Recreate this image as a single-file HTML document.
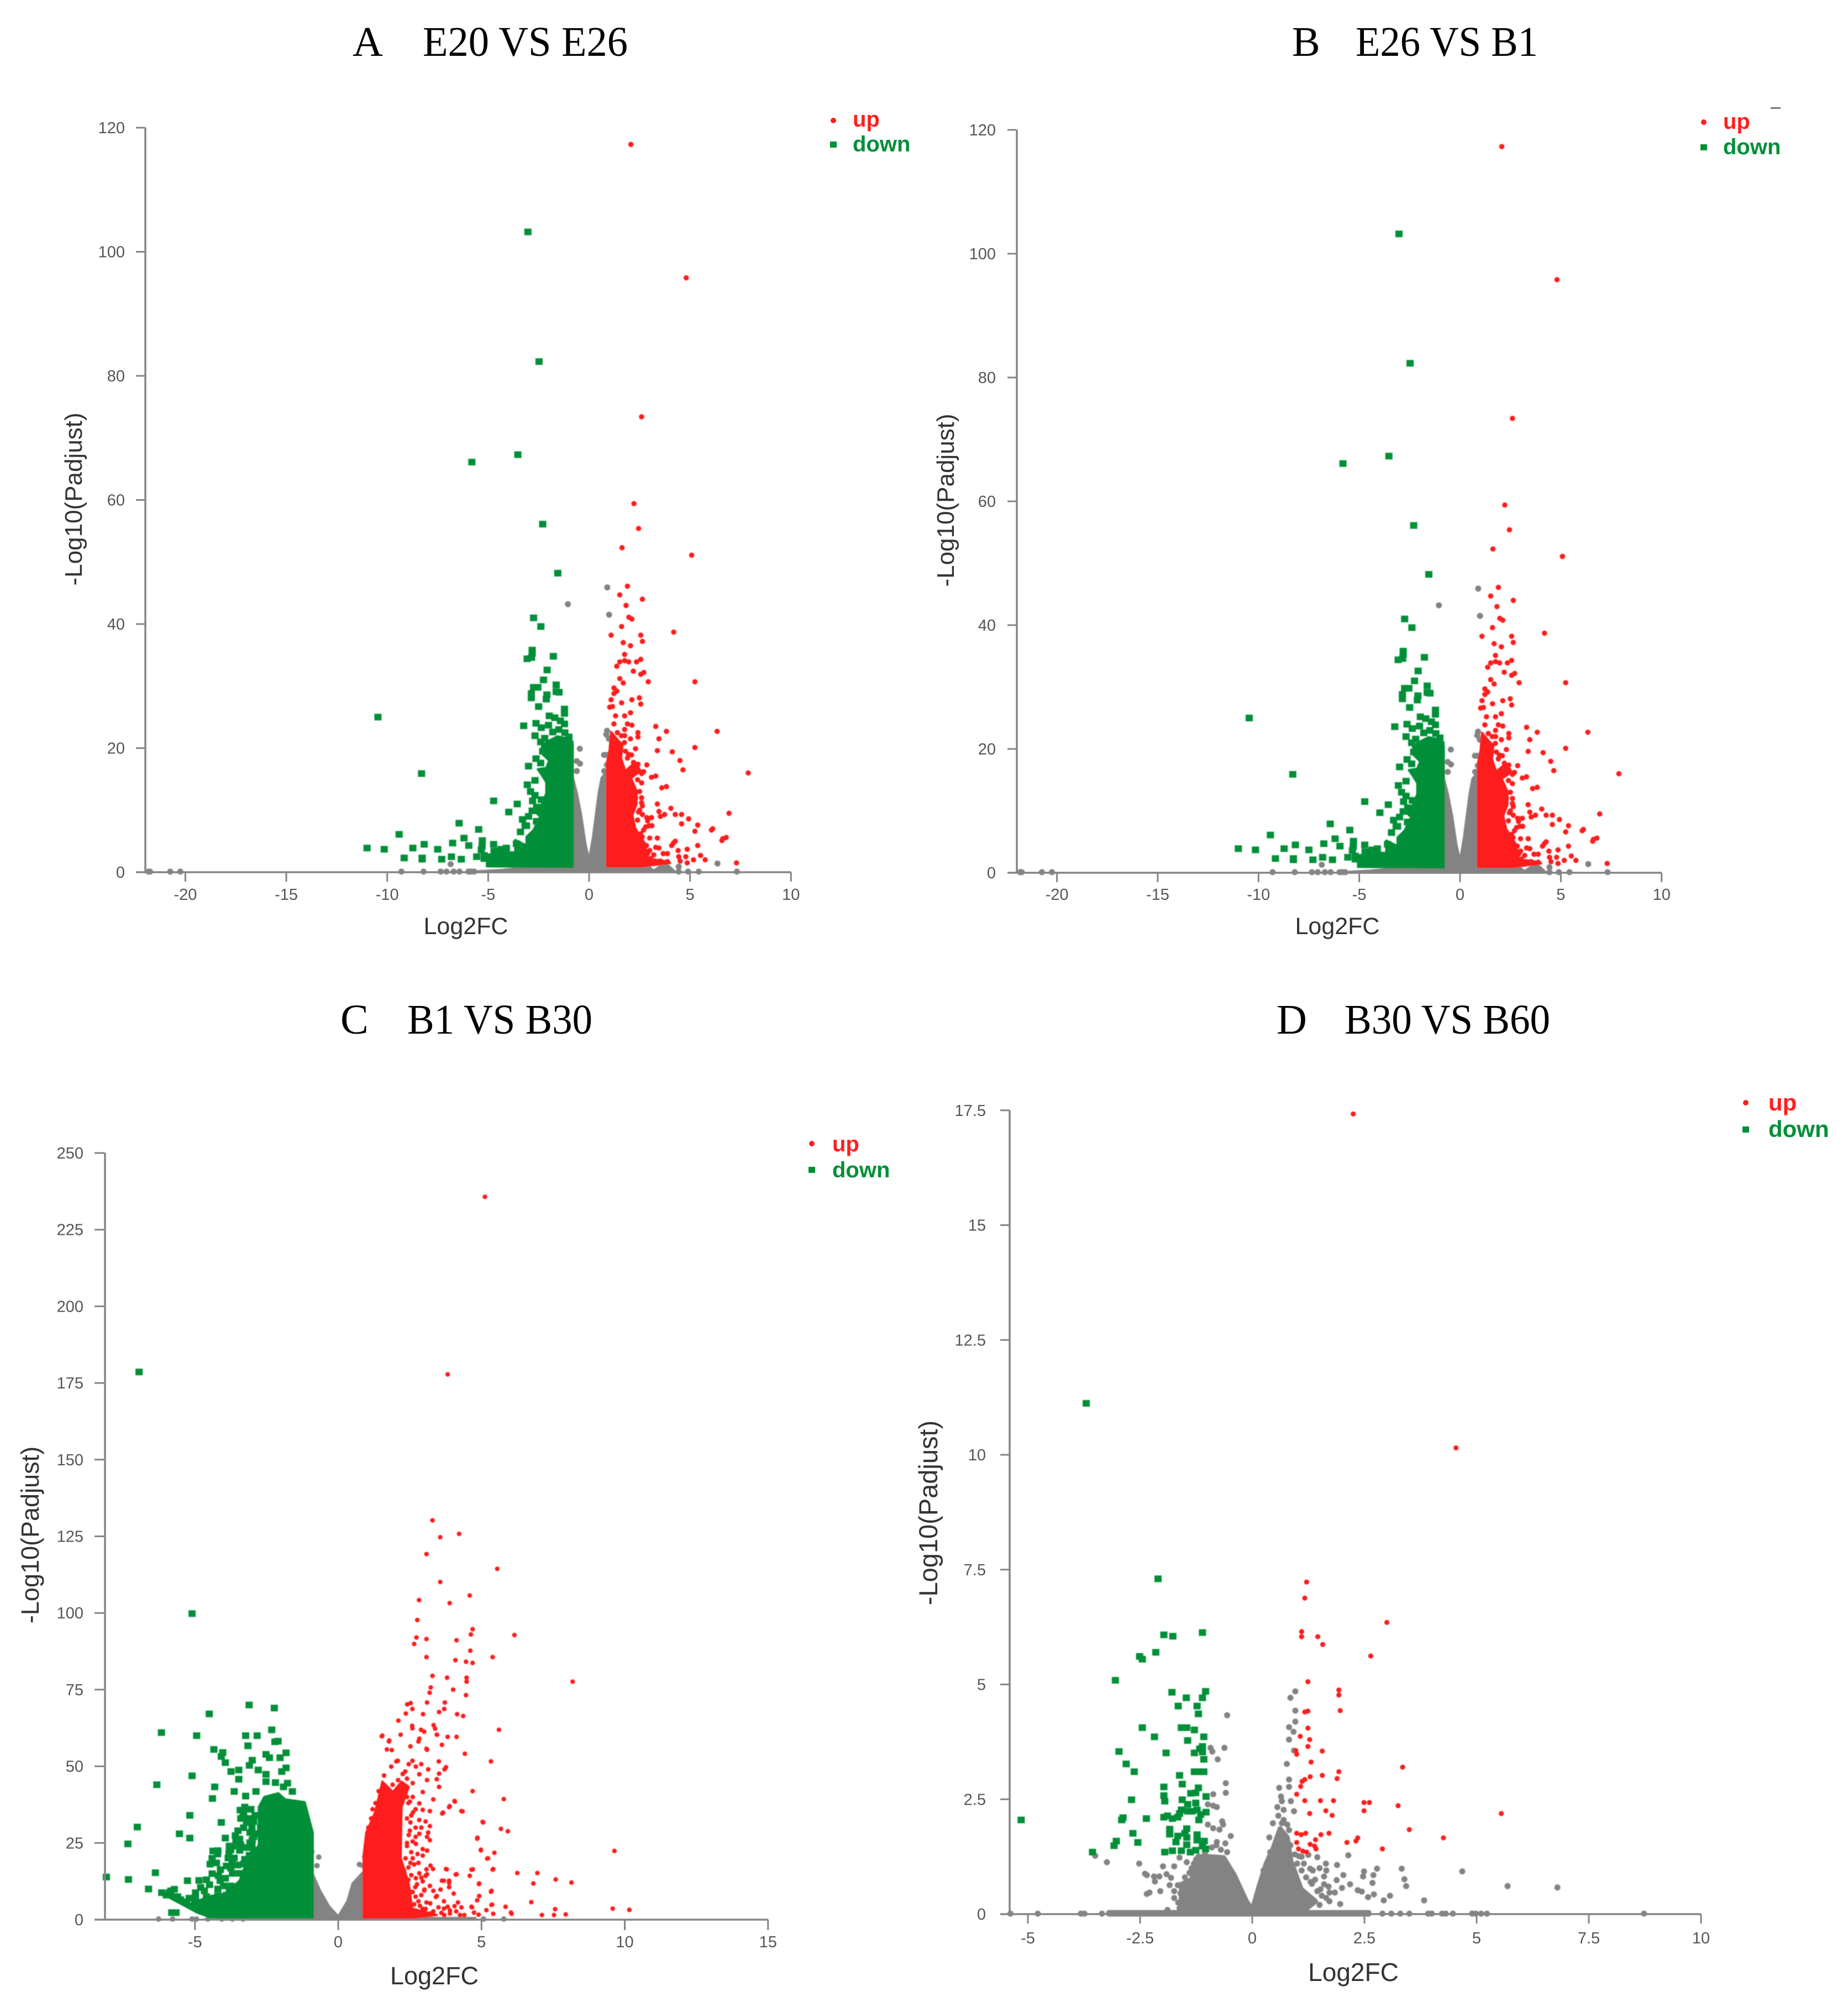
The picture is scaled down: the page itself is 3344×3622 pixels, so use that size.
<!DOCTYPE html>
<html lang="en">
<head>
<meta charset="utf-8">
<title>Volcano plots</title>
<style>
html,body{margin:0;padding:0;background:#fff;}
svg{display:block;}
.title{font-family:"Liberation Serif",serif;font-size:76px;fill:#000;}
.axis-title{font-family:"Liberation Sans",sans-serif;fill:#333;}
.legend-label{font-family:"Liberation Sans",sans-serif;font-size:40px;font-weight:bold;}
.tick-label{font-family:"Liberation Sans",sans-serif;font-size:29px;fill:#555;}
</style>
</head>
<body>
<svg id="figure" width="3344" height="3622" viewBox="0 0 3344 3622" xmlns="http://www.w3.org/2000/svg">
<defs><filter id="soft" x="-2%" y="-2%" width="104%" height="104%"><feGaussianBlur stdDeviation="0.9"/></filter></defs>
<rect x="0" y="0" width="3344" height="3622" fill="#fff"/>

<g>
<text class="title" x="638" y="101">A</text>
<text class="title" x="765" y="101" textLength="371" lengthAdjust="spacingAndGlyphs">E20 VS E26</text>
<text class="axis-title" x="843" y="1690" font-size="43" text-anchor="middle">Log2FC</text>
<text class="axis-title" transform="translate(133,903) rotate(-90)" dy="15" font-size="44" text-anchor="middle">-Log10(Padjust)</text>
<circle cx="1508" cy="218" r="5" fill="#ff1f1f"/>
<text class="legend-label" x="1543" y="229" fill="#ff1f1f">up</text>
<rect x="1502" y="256" width="12" height="11" fill="#008f38"/>
<text class="legend-label" x="1543" y="274" fill="#008f38">down</text>
</g>

<g>
<text class="title" x="2338" y="101">B</text>
<text class="title" x="2453" y="101" textLength="330" lengthAdjust="spacingAndGlyphs">E26 VS B1</text>
<text class="axis-title" x="2420" y="1690" font-size="43" text-anchor="middle">Log2FC</text>
<text class="axis-title" transform="translate(1711,905) rotate(-90)" dy="15" font-size="44" text-anchor="middle">-Log10(Padjust)</text>
<circle cx="3083" cy="221" r="5" fill="#ff1f1f"/>
<text class="legend-label" x="3118" y="233" fill="#ff1f1f">up</text>
<rect x="3077" y="261" width="12" height="11" fill="#008f38"/>
<text class="legend-label" x="3118" y="279" fill="#008f38">down</text>
<rect x="3204" y="194" width="18" height="3" fill="#777"/>
</g>

<g>
<text class="title" x="616" y="1870">C</text>
<text class="title" x="737" y="1870" textLength="335" lengthAdjust="spacingAndGlyphs">B1 VS B30</text>
<text class="axis-title" x="786" y="3590" font-size="45" text-anchor="middle">Log2FC</text>
<text class="axis-title" transform="translate(55,2777) rotate(-90)" dy="15" font-size="45" text-anchor="middle">-Log10(Padjust)</text>
<circle cx="1469" cy="2069" r="5" fill="#ff1f1f"/>
<text class="legend-label" x="1506" y="2083" fill="#ff1f1f">up</text>
<rect x="1463" y="2111" width="12" height="11" fill="#008f38"/>
<text class="legend-label" x="1506" y="2130" fill="#008f38">down</text>
</g>

<g>
<text class="title" x="2310" y="1870">D</text>
<text class="title" x="2433" y="1870" textLength="372" lengthAdjust="spacingAndGlyphs">B30 VS B60</text>
<text class="axis-title" x="2449" y="3584" font-size="46" text-anchor="middle">Log2FC</text>
<text class="axis-title" transform="translate(1681,2737) rotate(-90)" dy="15" font-size="47" text-anchor="middle">-Log10(Padjust)</text>
<circle cx="3159" cy="1995" r="5" fill="#ff1f1f"/>
<text class="legend-label" x="3200" y="2009" fill="#ff1f1f" style="font-size:42px">up</text>
<rect x="3153" y="2038" width="12" height="11" fill="#008f38"/>
<text class="legend-label" x="3200" y="2057" fill="#008f38" style="font-size:42px">down</text>
</g>
</svg>

<script>
// Tick values
const abXTicks=[-20,-15,-10,-5,0,5,10];
const abYTicks=[0,20,40,60,80,100,120];
const cXTicks=[-5,0,5,10,15];
const cYTicks=[0,25,50,75,100,125,150,175,200,225,250];
const dXTicks=[-5,-2.5,0,2.5,5,7.5,10];
const dYTicks=[0,2.5,5,7.5,10,12.5,15,17.5];

// Panels A and B: [log2FC, -log10(padj)]
const abGrayLeftCloud=[[-0.81,15.5],[-0.59,12.7],[-0.38,9.2],[-0.17,4.6],[0,2.2],[0,0],[-0.81,0]];
const abGrayRightCloud=[[0,2.2],[0.18,5.7],[0.32,9.2],[0.46,12.7],[0.6,15.2],[0.88,16.3],[0.88,0],[0,0]];
const abGrayBand=[[-5.5,0],[-5.5,0.2],[-4.4,0.4],[-3,0.85],[3,0.85],[3.2,0.3],[3.5,1],[3.9,1.2],[4.3,0]];
const abGreenCloud=[[-0.81,0.85],[-0.81,20.5],[-1,21.5],[-1.56,21.9],[-1.98,21.2],[-2.33,20.5],[-2.33,19.1],[-1.98,18],[-2.12,16.8],[-2.54,16.6],[-2.33,15.6],[-2.12,14.5],[-2.12,12.7],[-2.33,11],[-2.68,9.6],[-2.4,9.2],[-2.75,6.8],[-3.1,5.7],[-3.1,4.3],[-3.66,5.2],[-3.66,3.2],[-4.36,3.2],[-5.06,1.8],[-5.06,0.95]];
const abRedCloud=[[0.89,0.95],[0.89,17.7],[1.02,19.8],[1.09,22.6],[1.37,21.5],[1.65,20.5],[1.58,18.4],[1.79,16.3],[2.28,17.7],[2.56,16.3],[2.07,15.2],[2.35,13.1],[2.35,11],[2.14,9.2],[2.28,7.1],[2.77,4.6],[2.9,2.2],[3.74,1.8],[4.02,1.5],[2.63,0.95]];
const abGrayPoints=[[-21.83,0.1],[-21.75,0.1],[-20.75,0.1],[-20.25,0.1],[-9.3,0.1],[-8.2,0.1],[-7.35,0.1],[-7.06,0.1],[-6.71,0.1],[-6.42,0.1],[-6.86,1.3],[-5.98,0.1],[-5.84,0.1],[-5.69,0.1],[6.36,1.4],[5.43,0.1],[4.44,0.9],[4.44,0.1],[4.9,0.1],[7.32,0.1],[-1.05,43.2],[0.9,45.9],[0.99,41.5],[-0.46,19.9],[-0.61,17.9],[-0.45,17.5],[-0.61,16.3],[0.89,22.8],[0.85,22.2],[0.98,21.5],[0.74,18.9],[0.88,18.9],[0.88,17.3],[0.75,16.3]];
const abUpPoints=[[2.07,117.3],[4.81,95.8],[2.6,73.4],[2.22,59.4],[2.45,55.4],[1.63,52.3],[5.08,51.1],[1.9,46.1],[1.52,44.7],[2.64,44],[1.83,43],[1.97,41.1],[2.12,40.8],[1.61,39.6],[4.19,38.7],[1.09,38.2],[2.56,38.2],[2.64,37.2],[1.69,37],[2.05,36.5],[1.76,35.1],[2.56,34.3],[2.35,33.9],[1.96,33.9],[1.76,34.1],[1.52,33.9],[1.37,33.2],[2.19,32.4],[2.56,31.9],[2.71,32.2],[2.93,30.7],[1.52,31.2],[1.69,30.5],[5.24,30.7],[1.23,29.7],[1.37,29.2],[1.23,28.8],[1.09,27.8],[1.61,27.3],[2.12,27.8],[2.49,28.1],[2.56,27.1],[1.02,26.6],[1.16,26.7],[2.05,25.7],[1.76,25.2],[1.31,25.2],[1.23,23.9],[1.9,23.9],[2.12,23.7],[3.3,23.5],[3.83,22.7],[6.34,22.7],[1.76,23],[2.42,22.5],[1.76,22],[2.42,21.8],[2.05,21.5],[3.46,21.5],[5.24,20.1],[3.38,19.6],[4.12,19.4],[4.5,18],[4.65,16.5],[7.88,16],[2.86,17.3],[3.3,15.5],[3.09,15.3],[3.83,13.8],[3.6,13.6],[3.38,11],[4.05,10.3],[2.64,10.7],[3.46,9.8],[3.53,9],[3.74,9.3],[4.27,9.3],[4.58,9.3],[4.93,8.6],[6.93,9.5],[4.58,7.8],[5.38,7.6],[6.06,6.8],[6.12,7],[5.24,6.6],[6.79,5.6],[6.58,5.1],[6.62,5.4],[4.27,5],[4.18,4.7],[4.09,4.3],[5.38,4.3],[3.38,5.5],[3.46,3.9],[4.41,3.5],[4.86,3.7],[3.67,3],[3.88,3],[4.44,2.5],[4.79,2.5],[5.52,2.7],[5.75,2],[5.17,2],[4.51,1.8],[4.86,1.5],[7.3,1.5],[3.09,8.8],[2.86,8.8],[2.64,9.3],[2.97,7.5],[3.11,7.5],[2.7,6.8],[2.63,5.7],[2.84,4.3],[3.04,2.2],[3.53,1.8],[3.88,1.7],[2.3,19.9],[1.95,19],[1.75,20.9],[2.42,17.4],[2.7,16.2],[2.6,14.4],[2.6,12],[2.5,10]];
const abUpSparse=[[2.2,17.7],[2.4,16.6],[2.6,15.9],[2.4,14.9],[2.5,13],[2.3,12],[2.6,11.2],[2.45,9.7],[2.4,8.4],[2.9,8.3],[2.55,6.2],[2.8,7.3],[3,5.5],[3,3.5],[3.2,2.8],[3.3,1.6],[2.9,3],[3.3,4],[1.5,20.7],[1.8,19.5],[1.9,18.4],[2.1,18.9],[1.6,22],[1.2,21],[1.4,22.5]];
const abDownPoints=[[-3.03,103.2],[-2.48,82.3],[-3.53,67.3],[-5.81,66.1],[-2.3,56.1],[-1.55,48.2],[-2.75,41],[-2.39,39.6],[-2.82,35.8],[-2.82,35.3],[-3.07,34.4],[-2.85,34.6],[-1.77,34.8],[-2.08,32.6],[-2.26,31],[-2.75,29.8],[-2.54,29.8],[-1.63,30.2],[-1.63,29.1],[-1.49,29],[-2.86,28.8],[-2.86,28.1],[-2.09,28.6],[-2.12,27.9],[-2.5,26.7],[-1.22,26.3],[-1.22,25.6],[-1.97,25.2],[-1.7,24.9],[-1.42,24.4],[-1.22,23.9],[-3.24,23.6],[-2.63,24],[-2.37,23.3],[-2.01,23.7],[-2.68,22],[-2.63,18.3],[-3,17.1],[-2.68,14.8],[-3.06,14.1],[-8.3,15.9],[-10.46,25],[-2.68,12.4],[-2.37,11.7],[-4.73,11.5],[-3.56,11],[-3.98,9.7],[-2.82,9.9],[-2.4,9.6],[-2.61,8.2],[-3.17,7.5],[-6.44,7.9],[-5.47,6.9],[-9.41,6.1],[-6.2,5.5],[-5.29,5.1],[-8.17,4.5],[-6.76,4.7],[-4.73,4.5],[-5.96,4.3],[-8.73,3.9],[-11,3.9],[-10.15,3.7],[-7.5,3.7],[-5.34,3.6],[-4.36,3.7],[-4.71,3.4],[-9.16,2.3],[-8.27,2.3],[-6.82,2.5],[-7.3,2.1],[-6.33,2.1],[-5.57,2.5],[-5.2,2.2],[-8.27,2.1],[-5.3,4.2]];
const abDownSparse=[[-2.9,13],[-2.8,11.5],[-2.6,10.5],[-3,9],[-3.3,8.5],[-3.1,7.5],[-3.4,6.5],[-3.6,4.6],[-4.1,3.9],[-4.6,3],[-4.9,2.5],[-5.2,2.7],[-4.4,2.9],[-2.4,17.6],[-2.3,19.5],[-2.2,21.6],[-2.4,21],[-1.8,22.6],[-1.5,23],[-1.2,22.5],[-1,21.8],[-0.95,20.7]];

// Panel C
const cGrayLeftCloud=[[-0.89,15.1],[-0.62,9.4],[-0.31,4.4],[0,1.2],[0,0],[-0.89,0]];
const cGrayRightCloud=[[0,1.2],[0.31,6],[0.49,11.8],[0.86,15.6],[0.86,0],[0,0]];
const cGrayBand=[[-4,0],[-4,0.6],[4.8,0.6],[4.8,0]];
const cGreenCloud=[[-0.89,0.66],[-0.89,28.4],[-1.17,38.3],[-1.85,39.2],[-2.09,41.2],[-2.58,40],[-2.77,36.7],[-2.77,24.3],[-3.2,18.5],[-3.44,12.7],[-3.94,8.5],[-4.43,7.7],[-5.17,5.2],[-5.78,8.5],[-6.15,8.5],[-4.92,2.3],[-4.43,0.66]];
const cRedCloud=[[0.886,0.66],[0.886,20.9],[0.98,28.4],[1.29,35],[1.54,45],[1.91,41.6],[2.21,45],[2.46,43.3],[2.21,36.7],[2.18,20.1],[2.46,11.8],[2.58,3.6],[3.44,1.5],[2.58,0.66]];
const cGrayPoints=[[-1.01,25.3],[-0.92,22.2],[-0.68,20.4],[-0.74,17.6],[0.92,20.5],[0.74,18],[0.86,17.6],[-6.27,0.2],[-5.78,0.2],[-5.1,0.2],[-4.95,0.2],[-4.55,0.2],[-4.06,0.2],[-3.69,0.2],[-3.32,0.2],[5.07,0.2],[5.78,0.2]];
const cUpPoints=[[5.12,235.7],[3.82,177.8],[3.29,130.2],[4.22,125.8],[3.56,124.7],[3.08,119.2],[5.55,114.4],[3.56,110.1],[4.59,105.7],[2.82,104.2],[3.89,103.2],[2.76,97.7],[6.15,92.8],[4.69,94.7],[4.63,93],[2.73,92],[2.65,89.9],[3.08,91.5],[4.13,91.1],[4.61,87.7],[5.39,85.6],[3.08,85.6],[4.09,84.6],[4.46,84.1],[4.69,83.7],[3.29,79.5],[3.8,78.9],[4.48,78.9],[4.48,77.6],[8.18,77.6],[4.01,75],[3.23,75.7],[3.19,74],[4.46,73.2],[3.1,70.8],[3.72,70.8],[2.41,70.2],[2.53,70.6],[3.7,68.7],[2.59,68.7],[3.52,67.7],[2.96,67],[4.15,67],[4.36,66.4],[2.36,67.2],[5.61,61.9],[2.1,64.9],[1.52,59.8],[3.33,63.4],[2.59,62.4],[2.18,60.3],[3,61.3],[3.45,60.3],[4.13,59.6],[3.82,59.6],[2.8,58.1],[1.77,58.1],[3.1,55.4],[3.62,57],[4.42,54.1],[5.33,51.6],[2.59,51.8],[2.08,51.8],[2.9,50.7],[3.52,47.6],[3.76,49.7],[4.69,41.9],[3.1,45.5],[3.52,43.3],[5.78,39.3],[4.07,38.5],[3.89,37],[3.66,34.9],[4.34,35.3],[5.06,31.7],[5.68,29.6],[5.92,28.8],[4.85,26.4],[4.98,22.6],[9.64,22.4],[5.45,21.8],[5.2,19.9],[4.65,16.3],[5.41,16.5],[6.25,15.2],[6.95,15.2],[7.59,13.1],[6.81,11.8],[8.14,12.1],[4.91,11.6],[3.76,16.5],[4.13,14.8],[3.87,12],[3.62,12.7],[5.33,9.1],[3.1,14.8],[3.31,16.5],[2.9,13.7],[2.69,10.6],[3,9.5],[3.41,7.4],[4.03,8.5],[4.85,6.3],[5.84,4.2],[6.74,5.7],[9.58,3.6],[10.16,3.2],[7.57,3.4],[7.11,1.5],[7.53,1.5],[7.94,1.7],[6.05,1.9],[5.37,4.9],[4.65,4.2],[3.82,4.2],[3.21,5.3],[2.95,41.6],[3.32,39.2],[2.83,37.9],[2.95,35.8],[2.61,35],[3.2,35.4],[3.63,34.6],[3.87,36.7],[4.06,38.7],[4.3,35.4],[2.83,32.5],[2.52,31.7],[3.2,30.5],[2.83,28],[2.46,27.6],[3.14,28.4],[3.2,25.9],[2.71,24.7],[2.95,20.9],[2.77,21.4],[2.52,18.5],[3.22,17.6],[2.83,15.1],[3.08,16.4],[2.71,13.5],[3.05,14.3],[3.79,16.4],[4.1,14.7],[3.69,12.7],[3.87,12.7],[3.87,10.6],[4.59,14.3],[4.7,16.4],[4.92,11.8],[3.01,9.8],[3.32,9.4],[3.57,9.8],[3.44,7.7],[4.18,5.6],[3.69,6],[3.08,5.6],[4.67,4],[4.06,4.4],[4.3,4],[3.69,3.6],[3.32,2.7],[4.12,2.7],[4.74,2.3],[5.17,3.1],[5.41,1.9],[6.03,2.3],[5.35,4.8],[4.92,7.7],[5.35,9.4],[4.86,26.7],[5.04,31.9],[4.98,22.8],[5.23,20],[5.39,16.3],[1.54,60],[1.78,58.4],[1.7,55.5],[1.87,55.3],[1.85,49.9],[2.03,51.6],[1.41,41.9],[2.09,45.5],[2.46,50.7],[2.34,48.3],[2.71,49.9],[2.83,47.4],[3.14,49],[3.44,45.8],[3.71,49],[3.51,51.6],[2.52,56.5],[2.83,59],[3.08,55.7],[3.44,60.3],[3.38,62.3],[2.58,63.2],[2.89,61.9],[2.6,40],[2.45,38],[2.7,30],[2.4,25],[2.65,18],[2.6,9],[2.8,6],[2.95,3.5],[3.9,2],[4.4,1.5],[4.9,1.6],[3.6,2.2]];
const cUpSparse=[[2.3,43],[2.4,40],[2.5,38.5],[2.7,36],[2.55,34],[2.4,33],[2.5,29],[2.7,27],[2.9,30],[3.05,32],[3.1,27],[2.6,25.5],[2.4,24],[2.55,22],[2.35,20],[2.6,20],[2.8,18.5],[2.45,17],[2.95,23],[3.1,22.5],[2.3,16],[2.55,14.5],[2.45,13],[2.75,11.5],[2.95,12.5],[3.2,11],[2.55,9],[2.7,7.5],[2.9,8],[2.65,5],[2.85,4.5],[3.05,3.5],[2.75,2.5],[3.2,2],[3.5,4],[3.7,1.5],[3.9,3],[4.25,1.5],[1.3,38],[1.15,33],[1.05,30],[1,25],[1.2,36],[1.6,47],[1.9,44],[2.25,47.5],[2.4,46],[2.6,44.5]];
const cDownPoints=[[-5.1,99.8],[-6.95,178.6],[-3.11,70],[-2.23,69],[-4.5,67.1],[-6.17,61],[-4.94,60],[-3.23,60],[-2.83,60],[-2.32,61.9],[-2.21,58],[-2.1,58.2],[-3.15,56.7],[-4.34,55.5],[-4.03,54.5],[-1.82,54.4],[-2.52,53.9],[-4.08,53.2],[-2.4,52.8],[-2.03,52.8],[-3.94,51.2],[-3,52],[-3.1,50.3],[-1.82,49.5],[-1.97,48.3],[-2.79,48.8],[-3.74,48.3],[-3.47,48.8],[-3.47,45.8],[-5.1,46.9],[-2.52,47.4],[-2.52,45],[-2.19,44.7],[-1.77,44.5],[-1.91,43.3],[-6.33,44],[-4.31,43.3],[-3.63,41.8],[-2.87,41.8],[-1.6,41.8],[-3.23,40.3],[-4.39,39.5],[-3.42,35.7],[-3.26,36.7],[-5.18,34],[-4.08,31.7],[-7.01,30.2],[-5.54,28],[-5.18,26.6],[-7.34,24.7],[-3.94,26.6],[-3.59,27.4],[-4.37,22.4],[-4.21,21.4],[-3.75,22.8],[-4.47,18.1],[-6.38,15.3],[-4.11,16.3],[-8.09,13.9],[-7.32,13.1],[-5.26,12.7],[-4.86,12.8],[-6.62,10],[-4.49,11.4],[-6.16,8.8],[-5.84,9.4],[-5.72,9.9],[-4.98,8.8],[-5.81,2.3],[-5.66,2.3],[-4.43,1.5],[-3.84,20.1],[-3.32,33.4],[-3.2,31.7],[-3.01,30],[-2.71,30],[-3.08,28.4],[-2.89,28],[-3.57,25.5],[-3.44,26.3],[-3.01,24.7],[-3.81,21.8],[-3.44,22.6],[-3.63,20.1],[-3.26,19.7],[-2.95,19.3],[-3.75,16.8],[-4.18,14.3],[-3.94,13.5],[-3.69,15.1],[-3.44,15.1],[-4.12,12.7],[-3.75,11],[-4.43,6.9],[-4.67,9.4],[-4.98,6.9],[-3.2,16],[-2.95,22.6],[-3.08,25.1]];
const cDownSparse=[[-4.4,15],[-4.2,10],[-4,11],[-3.8,9.5],[-3.6,10.5],[-3.4,9],[-3.9,17.5],[-3.7,18.5],[-3.5,17.8],[-3.3,18.2],[-3.1,14],[-3.3,12],[-3.1,21],[-3,17],[-2.9,15],[-2.9,20],[-3.2,23.5],[-3.4,24.3],[-3.6,24],[-3.8,24],[-3,26],[-2.95,27],[-3.3,30],[-3.1,33],[-2.9,34],[-3.05,36],[-2.95,32],[-3.3,35],[-3.4,33],[-3.5,29],[-4.2,22.5],[-4.4,20],[-4.25,18.5],[-4.6,13],[-4.8,10.5],[-4.6,7.5],[-5,6],[-5.3,5.8],[-5.5,6.5],[-5.2,7],[-5.6,7.5],[-5.9,8.8],[-6,8],[-4.2,7.8],[-3.9,8],[-3.6,7.5],[-3.3,9],[-3.1,10],[-2.9,11],[-4.5,5.7],[-4.8,4.3],[-4.7,3],[-4.5,2.5]];

// Panel D
const dGrayLeftCloud=[[-1.11,1.26],[-0.64,1.23],[-0.4,0.85],[-0.13,0.28],[0,0.09],[0,0],[-1.58,0],[-1.58,0.15],[-1.58,0.65],[-1.35,0.75],[-1.26,1.2]];
const dGrayRightCloud=[[0,0.09],[0.15,0.6],[0.31,1.1],[0.46,1.42],[0.62,1.86],[0.78,1.67],[0.86,1.16],[1.09,0.54],[1.41,0.28],[1.09,0.03],[0,0]];
const dGrayBaseline=[[-3.2,0],[-3.2,0.035],[2.6,0.035],[2.6,0]];
const dGrayPoints=[[-0.56,4.33],[0.96,4.85],[0.85,4.71],[0.96,4.43],[0.96,4.19],[0.82,4.07],[0.92,3.97],[0.82,3.8],[-0.62,3.62],[-0.93,3.62],[-0.89,3.54],[-0.77,3.37],[0.77,3.27],[0.93,3.56],[0.82,2.93],[0.82,2.77],[0.6,2.75],[-0.59,2.85],[-0.59,2.64],[-0.87,2.61],[0.64,2.56],[0.86,2.46],[0.66,2.46],[0.56,2.33],[0.7,2.27],[0.93,2.24],[0.58,2.14],[-0.87,2.36],[-0.99,2.39],[-0.79,2.33],[-0.67,2.02],[-0.65,1.95],[-0.99,1.95],[-0.87,1.87],[-0.73,1.84],[0.46,1.98],[0.66,1.98],[0.78,1.95],[0.82,1.83],[-0.48,1.7],[0.38,1.67],[-0.79,1.57],[-0.6,1.54],[-0.56,1.35],[-3.5,1.27],[-3.24,1.13],[-2.52,1.1],[-2.39,0.88],[-2.35,0.85],[-2.19,0.82],[-2.17,0.71],[-2.07,0.82],[-1.91,0.87],[-1.81,0.79],[-1.99,1.04],[-1.74,1.04],[-1.62,1.23],[-1.46,1.13],[-1.84,0.63],[-1.66,0.63],[-2.05,0.5],[-2.35,0.44],[-2.29,0.47],[-1.74,0.5],[-1.74,0.35],[-1.89,0.09],[-1.62,0.13],[1.04,1.26],[1.25,1.29],[1.45,1.24],[1.64,1.1],[1.89,1.07],[2.14,1.28],[2.49,0.93],[2.47,0.82],[2.78,0.99],[2.7,0.85],[2.68,0.68],[3.33,0.99],[3.39,0.76],[3.43,0.61],[4.68,0.93],[5.69,0.61],[3.83,0.3],[3.07,0.4],[2.93,0.3],[2.58,0.37],[2.71,0.43],[2.35,0.52],[2.44,0.49],[2.18,0.65],[2,0.57],[1.88,0.74],[2.03,0.85],[1.96,0.22],[1.6,0.82],[1.33,0.66],[1.52,0.54],[1.72,0.47],[1.84,0.47],[1.72,0.28],[1.29,0.99],[6.8,0.58],[8.73,0.01],[-5.39,0.01],[-4.78,0.01],[-3.82,0.01],[-3.74,0.01],[-3.35,0.01],[2.9,0.01],[3.1,0.01],[3.3,0.01],[3.5,0.01],[3.92,0.01],[4,0.01],[4.23,0.01],[4.31,0.01],[4.47,0.01],[4.9,0.01],[4.98,0.01],[5.1,0.01],[5.23,0.01]];
const dGraySparse=[[-1.55,0.65],[-1.5,0.8],[-1.45,0.4],[-1.58,0.3],[-1.4,0.9],[-1.35,1],[-1.3,1.1],[-1.2,1.25],[-1.05,1.35],[-0.9,1.45],[-0.8,1.5],[-0.7,1.4],[-1.55,0.2],[-1.65,0.25],[-1.6,0.45],[-0.6,1.1],[-0.5,0.9],[-0.45,0.75],[0.25,0.95],[0.4,1.35],[0.55,1.6],[0.7,2.05],[0.85,1.5],[0.95,1.3],[1,1.1],[1.1,0.95],[1.2,0.8],[1.3,0.7],[1.45,0.5],[1.5,0.2],[1.35,0.95],[1.4,0.75],[1.55,0.4],[1.6,0.65],[1.7,0.6],[1.65,0.35],[1.15,1.1],[1.1,1.25],[1.65,0.95],[1.5,1]];
const dUpPoints=[[2.25,17.42],[4.54,10.15],[1.21,7.23],[1.17,6.88],[3,6.35],[1.1,6.15],[1.1,6.04],[1.46,6.04],[1.57,5.87],[2.64,5.62],[1.24,5.06],[1.93,4.88],[1.93,4.77],[1.17,4.4],[1.24,4.42],[1.96,4.43],[1.24,4.05],[1.07,3.87],[1.28,3.8],[1.24,3.65],[0.97,3.56],[0.99,3.48],[1.56,3.55],[1.31,3.31],[3.35,3.2],[1.93,3.1],[1.56,3.02],[1.29,2.99],[1.89,2.95],[1.17,2.93],[1.11,2.89],[1.08,2.78],[0.99,2.61],[1.17,2.47],[1.52,2.47],[1.81,2.47],[2.49,2.43],[2.61,2.43],[3.25,2.36],[2.49,2.25],[1.64,2.25],[1.28,2.19],[1.78,2.15],[5.55,2.19],[3.5,1.84],[0.99,1.76],[1.09,1.73],[1.19,1.76],[1.53,1.73],[1.71,1.76],[1.41,1.62],[4.26,1.66],[2.35,1.66],[2.31,1.59],[2.11,1.56],[0.99,1.56],[1.29,1.52],[1.39,1.48],[1.03,1.42],[1.13,1.37],[1.21,1.35],[1.42,1.42],[2.9,1.42]];
const dDownPoints=[[-3.7,11.12],[-2.1,7.3],[-1.11,6.13],[-1.97,6.08],[-1.77,6.05],[-2.15,5.7],[-2.51,5.61],[-2.45,5.55],[-3.05,5.09],[-1.79,4.83],[-1.04,4.85],[-1.11,4.71],[-1.47,4.71],[-1.65,4.53],[-1.23,4.53],[-1.2,4.36],[-2.45,4.06],[-1.58,4.06],[-1.46,4.06],[-1.29,4.01],[-2.18,3.86],[-1.08,3.86],[-1.44,3.78],[-1.11,3.65],[-1.17,3.6],[-1.11,3.53],[-2.97,3.54],[-1.92,3.51],[-1.29,3.51],[-1.08,3.37],[-2.81,3.27],[-2.63,3.1],[-1.29,3.1],[-1.19,3.1],[-1.08,3.1],[-1.62,3.02],[-1.56,2.83],[-1.97,2.77],[-1.2,2.75],[-1.26,2.64],[-1.37,2.63],[-1.97,2.58],[-1.03,2.56],[-2.69,2.49],[-1.95,2.46],[-1.56,2.49],[-1.44,2.39],[-1.26,2.42],[-1.58,2.27],[-1.44,2.24],[-1.34,2.24],[-1.23,2.27],[-1.03,2.22],[-1.15,2.17],[-1.62,2.19],[-1.66,2.11],[-1.78,2.08],[-1.89,2.14],[-1.97,2.11],[-1.19,2.05],[-2.88,2.1],[-2.91,2.05],[-2.36,2.08],[-5.15,2.05],[-1.84,1.85],[-1.84,1.74],[-1.46,1.86],[-1.5,1.76],[-2.66,1.76],[-1.23,1.73],[-1.66,1.7],[-1.46,1.67],[-1.7,1.57],[-1.23,1.61],[-1.07,1.59],[-3.03,1.59],[-2.55,1.56],[-3.08,1.49],[-1.46,1.51],[-1.11,1.48],[-3.56,1.35],[-1.95,1.35],[-1.78,1.38],[-1.58,1.38],[-1.38,1.35],[-1.26,1.39],[-1.04,1.42]];

const GRAY='#838383', RED='#ff1f1f', GREEN='#008f38', AXIS='#858585';
const NS='http://www.w3.org/2000/svg';
const figure=document.getElementById('figure');

function node(parent,tag,attrs){
  const el=document.createElementNS(NS,tag);
  for(const k in attrs){el.setAttribute(k,attrs[k]);}
  parent.appendChild(el);
  return el;
}

function drawPanel(p,d){
  const sx=v=>p.x0+v*p.xUnit;
  const sy=v=>p.y0-v*p.yUnit;

  const root=node(figure,'g',{});
  
  

  const plot=node(root,'g',{filter:'url(#soft)'});
  
  

  d.grayClouds.forEach(c=>{
    const poly=node(plot,'polygon',{points:c.map(q=>sx(q[0])+','+sy(q[1])).join(' '),fill:GRAY,stroke:GRAY,'stroke-width':p.cloudStroke,'stroke-linejoin':'round'});
    
    
  });
  d.gray.forEach(q=>{
    const c=node(plot,'circle',{cx:sx(q[0]),cy:sy(q[1]),r:p.grayR,fill:GRAY});
    
    
  });
  if(d.redCloud){
    const redCloud=node(plot,'polygon',{points:d.redCloud.map(q=>sx(q[0])+','+sy(q[1])).join(' '),fill:RED,stroke:RED,'stroke-width':4,'stroke-linejoin':'round'});
    
    
  }
  d.up.forEach(q=>{
    const c=node(plot,'circle',{cx:sx(q[0]),cy:sy(q[1]),r:p.redR,fill:RED});
    
    
  });
  if(d.greenCloud){
    const greenCloud=node(plot,'polygon',{points:d.greenCloud.map(q=>sx(q[0])+','+sy(q[1])).join(' '),fill:GREEN,stroke:GREEN,'stroke-width':4,'stroke-linejoin':'round'});
    
    
  }
  d.down.forEach(q=>{
    const c=node(plot,'rect',{x:sx(q[0])-6.5,y:sy(q[1])-6,width:13,height:12,fill:GREEN});
    
    
  });

  const axes=node(root,'g',{});
  
  

  const xAxis=node(axes,'line',{x1:p.axisX-p.tick,y1:p.y0,x2:sx(d.xTicks[d.xTicks.length-1]),y2:p.y0,stroke:AXIS,'stroke-width':3.5});
  
  
  const yAxis=node(axes,'line',{x1:p.axisX,y1:sy(d.yTicks[d.yTicks.length-1]),x2:p.axisX,y2:p.y0,stroke:AXIS,'stroke-width':3.5});
  
  

  d.xTicks.forEach(v=>{
    const t=node(axes,'line',{x1:sx(v),y1:p.y0,x2:sx(v),y2:p.y0+p.tick,stroke:AXIS,'stroke-width':3});
    
    
    const l=node(axes,'text',{x:sx(v),y:p.xLabelY,'text-anchor':'middle','class':'tick-label'});
    
    
    l.textContent=String(v);
  });
  d.yTicks.forEach(v=>{
    const t=node(axes,'line',{x1:p.axisX-p.tick,y1:sy(v),x2:p.axisX,y2:sy(v),stroke:AXIS,'stroke-width':3});
    
    
    const l=node(axes,'text',{x:p.yLabelX,y:sy(v)+10,'text-anchor':'end','class':'tick-label'});
    
    
    l.textContent=String(v);
  });
}

drawPanel(
  {id:'a',x0:1066,xUnit:36.53,y0:1578,yUnit:11.225,axisX:263,tick:17,xLabelY:1628,yLabelX:226,grayR:5.5,redR:4.8,cloudStroke:3},
  {xTicks:abXTicks,yTicks:abYTicks,grayClouds:[abGrayLeftCloud,abGrayRightCloud,abGrayBand],gray:abGrayPoints,redCloud:abRedCloud,up:abUpPoints.concat(abUpSparse),greenCloud:abGreenCloud,down:abDownPoints.concat(abDownSparse)}
);
drawPanel(
  {id:'b',x0:2642,xUnit:36.47,y0:1579,yUnit:11.2,axisX:1840,tick:17,xLabelY:1628,yLabelX:1802,grayR:5.5,redR:4.8,cloudStroke:3},
  {xTicks:abXTicks,yTicks:abYTicks,grayClouds:[abGrayLeftCloud,abGrayRightCloud,abGrayBand],gray:abGrayPoints,redCloud:abRedCloud,up:abUpPoints.concat(abUpSparse),greenCloud:abGreenCloud,down:abDownPoints.concat(abDownSparse)}
);
drawPanel(
  {id:'c',x0:612,xUnit:51.85,y0:3473,yUnit:5.548,axisX:190,tick:19,xLabelY:3523,yLabelX:151,grayR:5,redR:4.2,cloudStroke:3},
  {xTicks:cXTicks,yTicks:cYTicks,grayClouds:[cGrayLeftCloud,cGrayRightCloud,cGrayBand],gray:cGrayPoints,redCloud:cRedCloud,up:cUpPoints.concat(cUpSparse),greenCloud:cGreenCloud,down:cDownPoints.concat(cDownSparse)}
);
drawPanel(
  {id:'d',x0:2266,xUnit:81.2,y0:3463,yUnit:83.1,axisX:1827,tick:17,xLabelY:3516,yLabelX:1784,grayR:5.5,redR:4.6,cloudStroke:9},
  {xTicks:dXTicks,yTicks:dYTicks,grayClouds:[dGrayLeftCloud,dGrayRightCloud,dGrayBaseline],gray:dGrayPoints.concat(dGraySparse),redCloud:null,up:dUpPoints,greenCloud:null,down:dDownPoints}
);
</script>
</body>
</html>
